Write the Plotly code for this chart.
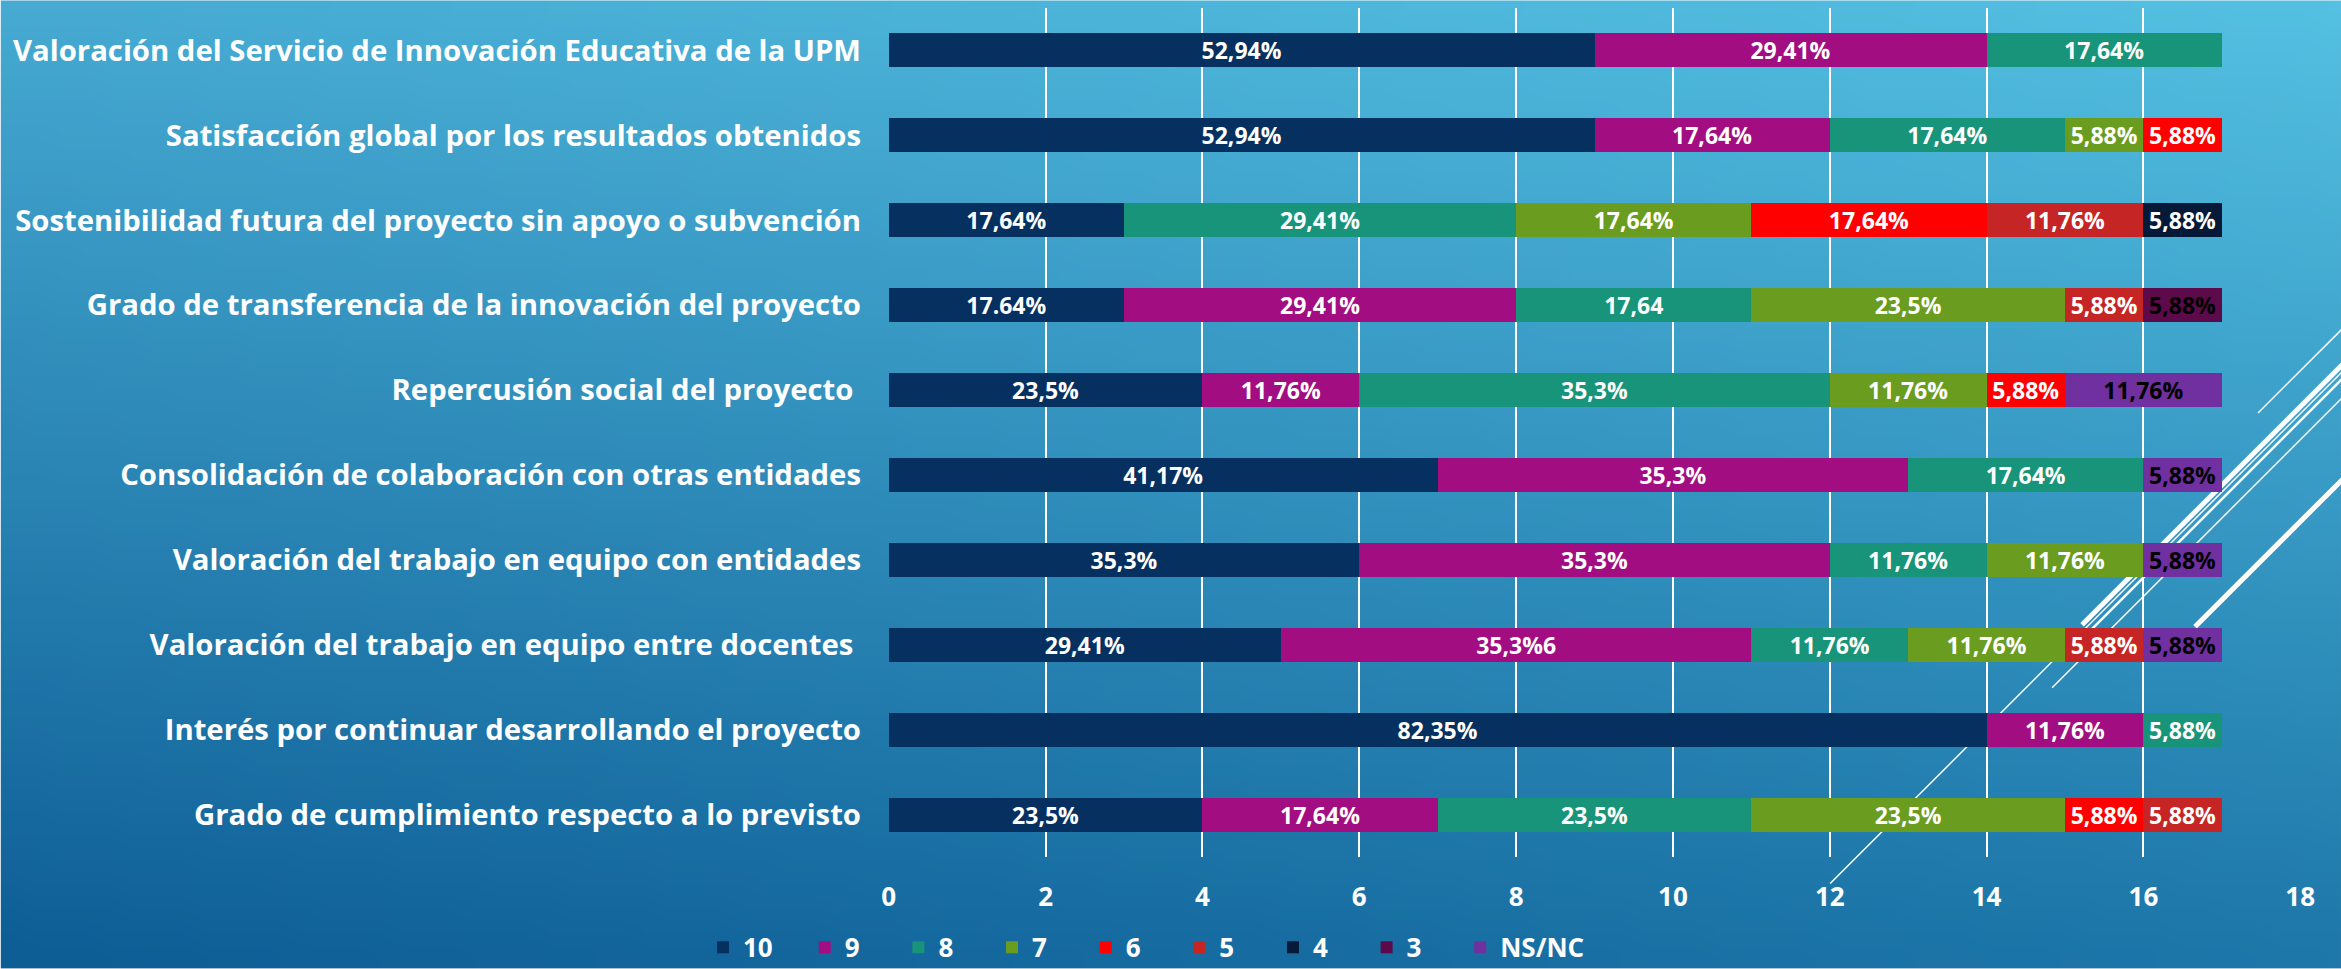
import base64, struct, zlib
import numpy as np
import plotly.graph_objects as go

# ---------------- data ----------------
categories = [
    "Valoración del Servicio de Innovación Educativa de la UPM",
    "Satisfacción global por los resultados obtenidos",
    "Sostenibilidad futura del proyecto sin apoyo o subvención",
    "Grado de transferencia de la innovación del proyecto",
    "Repercusión social del proyecto\u00a0",
    "Consolidación de colaboración con otras entidades",
    "Valoración del trabajo en equipo con entidades",
    "Valoración del trabajo en equipo entre docentes\u00a0",
    "Interés por continuar desarrollando el proyecto",
    "Grado de cumplimiento respecto a lo previsto",
]

series_names = ["10", "9", "8", "7", "6", "5", "4", "3", "NS/NC"]

v10 = [9, 9, 3, 3, 4, 7, 6, 5, 14, 4]
t10 = ["52,94%", "52,94%", "17,64%", "17.64%", "23,5%", "41,17%", "35,3%", "29,41%", "82,35%", "23,5%"]
v9 = [5, 3, 0, 5, 2, 6, 6, 6, 2, 3]
t9 = ["29,41%", "17,64%", "", "29,41%", "11,76%", "35,3%", "35,3%", "35,3%6", "11,76%", "17,64%"]
v8 = [3, 3, 5, 3, 6, 3, 2, 2, 1, 4]
t8 = ["17,64%", "17,64%", "29,41%", "17,64", "35,3%", "17,64%", "11,76%", "11,76%", "5,88%", "23,5%"]
v7 = [0, 1, 3, 4, 2, 0, 2, 2, 0, 4]
t7 = ["", "5,88%", "17,64%", "23,5%", "11,76%", "", "11,76%", "11,76%", "", "23,5%"]
v6 = [0, 1, 3, 0, 1, 0, 0, 0, 0, 1]
t6 = ["", "5,88%", "17,64%", "", "5,88%", "", "", "", "", "5,88%"]
v5 = [0, 0, 2, 1, 0, 0, 0, 1, 0, 1]
t5 = ["", "", "11,76%", "5,88%", "", "", "", "5,88%", "", "5,88%"]
v4 = [0, 0, 1, 0, 0, 0, 0, 0, 0, 0]
t4 = ["", "", "5,88%", "", "", "", "", "", "", ""]
v3 = [0, 0, 0, 1, 0, 0, 0, 0, 0, 0]
t3 = ["", "", "", "5,88%", "", "", "", "", "", ""]
vns = [0, 0, 0, 0, 2, 1, 1, 1, 0, 0]
tns = ["", "", "", "", "11,76%", "5,88%", "5,88%", "5,88%", "", ""]

x_ticks = [0, 2, 4, 6, 8, 10, 12, 14, 16, 18]

# ---------------- styles ----------------
colors = ["#06305f", "#a30d82", "#179479", "#6a9c20", "#ff0000",
          "#c62525", "#041a38", "#5c0a4a", "#7030a0"]
text_colors = ["white", "white", "white", "white", "white",
               "white", "white", "black", "black"]

values = [v10, v9, v8, v7, v6, v5, v4, v3, vns]
texts = [t10, t9, t8, t7, t6, t5, t4, t3, tns]

FONT = "Open Sans"
W, H = 2341, 969
L, R, T, B = 887.5, W - 2301, 7.5, H - 857.5
PW, PH = W - L - R, H - T - B

LEG_PAD = "\u00a0" * 5   # spacing after each legend entry, as in the original legend

fig = go.Figure()
for i, (name, vals, txt, col, tcol) in enumerate(zip(series_names, values, texts, colors, text_colors)):
    pad = LEG_PAD if i < len(series_names) - 1 else ""
    if name == "10":
        pad = "\u00a0" * 4
    fig.add_trace(go.Bar(
        y=categories, x=vals, name=name + pad, orientation="h",
        marker=dict(color=col, line=dict(width=0)),
        text=txt, textposition="inside", insidetextanchor="middle",
        textangle=0, constraintext="none",
        textfont=dict(family=FONT, size=23, color=tcol, weight="bold"),
        hovertemplate="%{y}: %{x}<extra>" + name + "</extra>",
    ))

# ---------------- gradient background (png data uri) ----------------
def png_uri(arr):
    h, w, _ = arr.shape
    raw = b"".join(b"\x00" + arr[i].tobytes() for i in range(h))
    def chunk(tag, data):
        c = struct.pack(">I", len(data)) + tag + data
        return c + struct.pack(">I", zlib.crc32(tag + data) & 0xffffffff)
    png = b"\x89PNG\r\n\x1a\n" + chunk(b"IHDR", struct.pack(">IIBBBBB", w, h, 8, 2, 0, 0, 0)) \
        + chunk(b"IDAT", zlib.compress(raw, 9)) + chunk(b"IEND", b"")
    return "data:image/png;base64," + base64.b64encode(png).decode()

gw, gh = 96, 40
tl = np.array([70, 170, 210], float)
tr = np.array([84, 192, 226], float)
bl = np.array([14, 94, 150], float)
br = np.array([30, 120, 170], float)
u = np.linspace(0, 1, gw)[None, :, None]
v = np.linspace(0, 1, gh)[:, None, None]
grad = (tl * (1 - u) * (1 - v) + tr * u * (1 - v) + bl * (1 - u) * v + br * u * v)
grad = np.clip(grad, 0, 255).astype(np.uint8)

fig.add_layout_image(dict(
    source=png_uri(grad), xref="paper", yref="paper",
    x=-L / PW, y=1 + T / PH, sizex=W / PW, sizey=H / PH,
    xanchor="left", yanchor="top", sizing="stretch", layer="below", opacity=1,
))

# ---------------- decorative diagonal lines (theme ornament) ----------------
def px2paper(px, py):
    return (px - L) / PW, 1 - (py - T) / PH

deco = [
    ((2258, 413), (2345, 326), 1.5),
    ((2082, 625), (2345, 362), 5),
    ((2091, 630), (2345, 376), 2.5),
    ((2052, 688), (2345, 395), 1.5),
    ((1830, 884), (2345, 369), 1.5),
    ((2195, 627), (2345, 477), 5),
]
shapes = []
for (a, b, w) in deco:
    x0, y0 = px2paper(*a)
    x1, y1 = px2paper(*b)
    shapes.append(dict(type="line", xref="paper", yref="paper", x0=x0, y0=y0, x1=x1, y1=y1,
                       line=dict(color="white", width=w), layer="below"))

fig.update_layout(
    width=W, height=H,
    margin=dict(l=L, r=R, t=T, b=B, pad=0, autoexpand=False),
    paper_bgcolor="rgba(0,0,0,0)", plot_bgcolor="rgba(0,0,0,0)",
    barmode="stack", bargap=0.6,
    font=dict(family=FONT, color="white", weight="bold"),
    shapes=shapes,
    showlegend=True,
    legend=dict(orientation="h", xref="container", yref="paper",
                x=703 / W, xanchor="left", y=-(948 - 857.5) / PH, yanchor="middle",
                font=dict(family=FONT, size=26, color="white", weight="bold"),
                traceorder="normal", bgcolor="rgba(0,0,0,0)"),
    xaxis=dict(range=[-0.01, 18.01], tickvals=x_ticks, showgrid=True, gridcolor="white",
               gridwidth=2, zeroline=False, showline=False, ticks="",
               tickfont=dict(family=FONT, size=26, color="white", weight="bold"),
               ticklabelstandoff=22, automargin=False),
    yaxis=dict(autorange="reversed", categoryorder="array", categoryarray=categories,
               showgrid=False, zeroline=False, showline=False, ticks="",
               tickfont=dict(family=FONT, size=29.3, color="white", weight="bold"),
               ticklabelstandoff=26, automargin=False),
)

fig.write_html("out.html", config={"displayModeBar": False},
               post_script="document.body.style.margin='0';")
